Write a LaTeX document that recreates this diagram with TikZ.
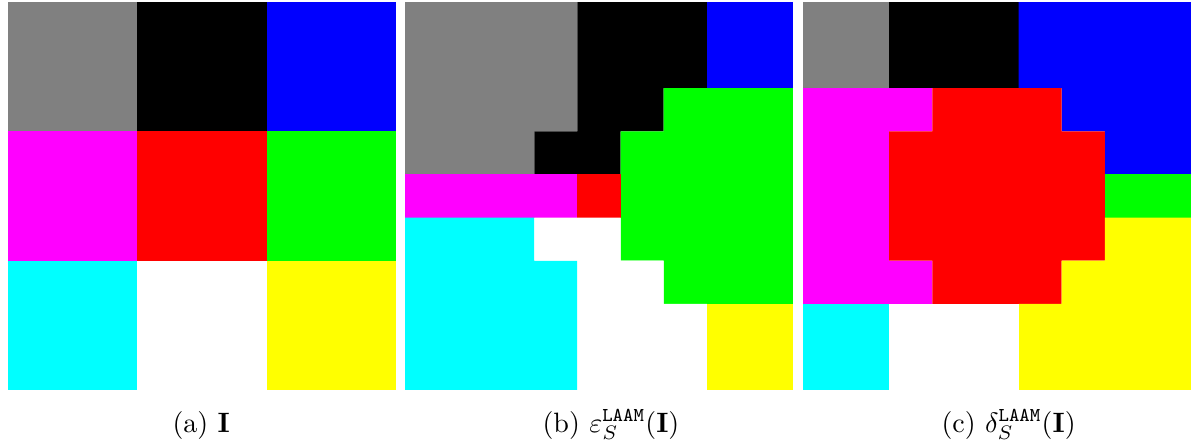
\documentclass[tikz,border=0pt]{standalone}
\usepackage{amsmath}
\definecolor{pxgray}{RGB}{128,128,128}
\definecolor{pxblack}{RGB}{0,0,0}
\definecolor{pxblue}{RGB}{0,0,255}
\definecolor{pxmagenta}{RGB}{255,0,255}
\definecolor{pxred}{RGB}{255,0,0}
\definecolor{pxgreen}{RGB}{0,255,0}
\definecolor{pxcyan}{RGB}{0,255,255}
\definecolor{pxwhite}{RGB}{255,255,255}
\definecolor{pxyellow}{RGB}{255,255,0}
\begin{document}
\begin{tikzpicture}[x=0.357pt,y=-0.357pt,
  captext/.style={anchor=base west,inner sep=0pt,font=\normalsize}]
\useasboundingbox (0,0) rectangle (1197,445);
\fill[pxwhite] (0,0) rectangle (1197,445);
% panel (a): 3x3 blocks
\begin{scope}[shift={(8,2)},x=129.33*0.357pt,y=-129.33*0.357pt]
  \fill[pxgray]    (0,0) rectangle (1,1);
  \fill[pxblack]   (1,0) rectangle (2,1);
  \fill[pxblue]    (2,0) rectangle (3,1);
  \fill[pxmagenta] (0,1) rectangle (1,2);
  \fill[pxred]     (1,1) rectangle (2,2);
  \fill[pxgreen]   (2,1) rectangle (3,2);
  \fill[pxcyan]    (0,2) rectangle (1,3);
  \fill[pxwhite]   (1,2) rectangle (2,3);
  \fill[pxyellow]  (2,2) rectangle (3,3);
\end{scope}
% panel (b): erosion, 9x9 cells
\begin{scope}[shift={(405,2)},x=43.11*0.357pt,y=-43.11*0.357pt]
  \fill[pxgray]    (0,0) -- (4,0) -- (4,3) -- (3,3) -- (3,4) -- (0,4) -- cycle;
  \fill[pxblack]   (4,0) -- (7,0) -- (7,2) -- (6,2) -- (6,3) -- (5,3) -- (5,4) -- (3,4) -- (3,3) -- (4,3) -- cycle;
  \fill[pxblue]    (7,0) rectangle (9,2);
  \fill[pxgreen]   (6,2) -- (9,2) -- (9,7) -- (6,7) -- (6,6) -- (5,6) -- (5,3) -- (6,3) -- cycle;
  \fill[pxmagenta] (0,4) rectangle (4,5);
  \fill[pxred]     (4,4) rectangle (5,5);
  \fill[pxcyan]    (0,5) -- (3,5) -- (3,6) -- (4,6) -- (4,9) -- (0,9) -- cycle;
  \fill[pxwhite]   (3,5) -- (5,5) -- (5,6) -- (6,6) -- (6,7) -- (7,7) -- (7,9) -- (4,9) -- (4,6) -- (3,6) -- cycle;
  \fill[pxyellow]  (7,7) rectangle (9,9);
\end{scope}
% panel (c): dilation, 9x9 cells
\begin{scope}[shift={(803,2)},x=43.11*0.357pt,y=-43.11*0.357pt]
  \fill[pxgray]    (0,0) rectangle (2,2);
  \fill[pxblack]   (2,0) rectangle (5,2);
  \fill[pxblue]    (5,0) -- (9,0) -- (9,4) -- (7,4) -- (7,3) -- (6,3) -- (6,2) -- (5,2) -- cycle;
  \fill[pxmagenta] (0,2) -- (3,2) -- (3,3) -- (2,3) -- (2,6) -- (3,6) -- (3,7) -- (0,7) -- cycle;
  \fill[pxred]     (3,2) -- (6,2) -- (6,3) -- (7,3) -- (7,6) -- (6,6) -- (6,7) -- (3,7) -- (3,6) -- (2,6) -- (2,3) -- (3,3) -- cycle;
  \fill[pxgreen]   (7,4) rectangle (9,5);
  \fill[pxyellow]  (7,5) -- (9,5) -- (9,9) -- (5,9) -- (5,7) -- (6,7) -- (6,6) -- (7,6) -- cycle;
  \fill[pxcyan]    (0,7) rectangle (2,9);
  \fill[pxwhite]   (2,7) rectangle (5,9);
\end{scope}
% captions
\node[captext] (capa) at (172,432) {(a) $\mathbf{I}$};
\node[captext] (capb) at (542,432) {(b) $\varepsilon_S^{\texttt{LAAM}}(\mathbf{I})$};
\node[captext] (capc) at (941,432) {(c) $\delta_S^{\texttt{LAAM}}(\mathbf{I})$};
\end{tikzpicture}
\end{document}
